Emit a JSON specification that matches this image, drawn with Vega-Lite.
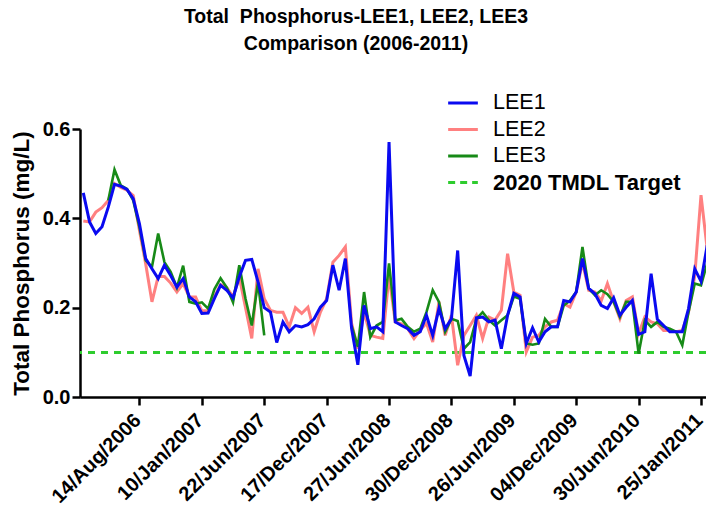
{
  "$schema": "https://vega.github.io/schema/vega-lite/v6.json",
  "width": 626,
  "height": 268,
  "autosize": {"type": "none"},
  "padding": {"left": 80, "top": 129, "right": 0, "bottom": 113},
  "background": "white",
  "config": {"view": {"stroke": null}, "font": "Liberation Sans"},
  "title": {
    "text": ["Total\u00a0 Phosphorus-LEE1, LEE2, LEE3", "Comparison (2006-2011)"],
    "font": "Liberation Sans",
    "fontSize": 19.5,
    "fontWeight": "bold",
    "color": "black",
    "lineHeight": 27,
    "anchor": "middle",
    "frame": "group",
    "dx": -37,
    "offset": 34
  },
  "datasets": {
    "tp": [
      {"i":0,"s":"LEE1","v":0.457},{"i":1,"s":"LEE1","v":0.392},{"i":2,"s":"LEE1","v":0.366},{"i":3,"s":"LEE1","v":0.381},{"i":4,"s":"LEE1","v":0.425},{"i":5,"s":"LEE1","v":0.476},{"i":6,"s":"LEE1","v":0.472},{"i":7,"s":"LEE1","v":0.465},{"i":8,"s":"LEE1","v":0.444},{"i":9,"s":"LEE1","v":0.388},
      {"i":10,"s":"LEE1","v":0.31},{"i":11,"s":"LEE1","v":0.287},{"i":12,"s":"LEE1","v":0.265},{"i":13,"s":"LEE1","v":0.295},{"i":14,"s":"LEE1","v":0.272},{"i":15,"s":"LEE1","v":0.246},{"i":16,"s":"LEE1","v":0.265},{"i":17,"s":"LEE1","v":0.224},{"i":18,"s":"LEE1","v":0.213},{"i":19,"s":"LEE1","v":0.187},
      {"i":20,"s":"LEE1","v":0.188},{"i":21,"s":"LEE1","v":0.22},{"i":22,"s":"LEE1","v":0.25},{"i":23,"s":"LEE1","v":0.239},{"i":24,"s":"LEE1","v":0.222},{"i":25,"s":"LEE1","v":0.269},{"i":26,"s":"LEE1","v":0.306},{"i":27,"s":"LEE1","v":0.308},{"i":28,"s":"LEE1","v":0.258},{"i":29,"s":"LEE1","v":0.2},
      {"i":30,"s":"LEE1","v":0.19},{"i":31,"s":"LEE1","v":0.122},{"i":32,"s":"LEE1","v":0.168},{"i":33,"s":"LEE1","v":0.146},{"i":34,"s":"LEE1","v":0.16},{"i":35,"s":"LEE1","v":0.157},{"i":36,"s":"LEE1","v":0.162},{"i":37,"s":"LEE1","v":0.175},{"i":38,"s":"LEE1","v":0.201},{"i":39,"s":"LEE1","v":0.216},
      {"i":40,"s":"LEE1","v":0.295},{"i":41,"s":"LEE1","v":0.239},{"i":42,"s":"LEE1","v":0.31},{"i":43,"s":"LEE1","v":0.153},{"i":44,"s":"LEE1","v":0.072},{"i":45,"s":"LEE1","v":0.205},{"i":46,"s":"LEE1","v":0.153},{"i":47,"s":"LEE1","v":0.157},{"i":48,"s":"LEE1","v":0.146},{"i":49,"s":"LEE1","v":0.571},
      {"i":50,"s":"LEE1","v":0.168},{"i":51,"s":"LEE1","v":0.16},{"i":52,"s":"LEE1","v":0.153},{"i":53,"s":"LEE1","v":0.138},{"i":54,"s":"LEE1","v":0.146},{"i":55,"s":"LEE1","v":0.183},{"i":56,"s":"LEE1","v":0.138},{"i":57,"s":"LEE1","v":0.198},{"i":58,"s":"LEE1","v":0.153},{"i":59,"s":"LEE1","v":0.175},
      {"i":60,"s":"LEE1","v":0.328},{"i":61,"s":"LEE1","v":0.093},{"i":62,"s":"LEE1","v":0.047},{"i":63,"s":"LEE1","v":0.177},{"i":64,"s":"LEE1","v":0.179},{"i":65,"s":"LEE1","v":0.168},{"i":66,"s":"LEE1","v":0.172},{"i":67,"s":"LEE1","v":0.108},{"i":68,"s":"LEE1","v":0.183},{"i":69,"s":"LEE1","v":0.232},
      {"i":70,"s":"LEE1","v":0.224},{"i":71,"s":"LEE1","v":0.12},{"i":72,"s":"LEE1","v":0.155},{"i":73,"s":"LEE1","v":0.123},{"i":74,"s":"LEE1","v":0.146},{"i":75,"s":"LEE1","v":0.157},{"i":76,"s":"LEE1","v":0.157},{"i":77,"s":"LEE1","v":0.216},{"i":78,"s":"LEE1","v":0.213},{"i":79,"s":"LEE1","v":0.235},
      {"i":80,"s":"LEE1","v":0.31},{"i":81,"s":"LEE1","v":0.243},{"i":82,"s":"LEE1","v":0.231},{"i":83,"s":"LEE1","v":0.205},{"i":84,"s":"LEE1","v":0.198},{"i":85,"s":"LEE1","v":0.222},{"i":86,"s":"LEE1","v":0.183},{"i":87,"s":"LEE1","v":0.201},{"i":88,"s":"LEE1","v":0.216},{"i":89,"s":"LEE1","v":0.14},
      {"i":90,"s":"LEE1","v":0.146},{"i":91,"s":"LEE1","v":0.276},{"i":92,"s":"LEE1","v":0.174},{"i":93,"s":"LEE1","v":0.16},{"i":94,"s":"LEE1","v":0.146},{"i":95,"s":"LEE1","v":0.146},{"i":96,"s":"LEE1","v":0.146},{"i":97,"s":"LEE1","v":0.198},{"i":98,"s":"LEE1","v":0.287},{"i":99,"s":"LEE1","v":0.259},{"i":100,"s":"LEE1","v":0.34},

      {"i":0,"s":"LEE2","v":0.394},{"i":1,"s":"LEE2","v":0.392},{"i":2,"s":"LEE2","v":0.414},{"i":3,"s":"LEE2","v":0.424},{"i":4,"s":"LEE2","v":0.44},{"i":5,"s":"LEE2","v":0.478},{"i":6,"s":"LEE2","v":0.469},{"i":7,"s":"LEE2","v":0.463},{"i":8,"s":"LEE2","v":0.451},{"i":9,"s":"LEE2","v":0.373},
      {"i":10,"s":"LEE2","v":0.298},{"i":11,"s":"LEE2","v":0.213},{"i":12,"s":"LEE2","v":0.27},{"i":13,"s":"LEE2","v":0.27},{"i":14,"s":"LEE2","v":0.255},{"i":15,"s":"LEE2","v":0.235},{"i":16,"s":"LEE2","v":0.254},{"i":17,"s":"LEE2","v":0.224},{"i":18,"s":"LEE2","v":0.224},{"i":19,"s":"LEE2","v":0.193},
      {"i":20,"s":"LEE2","v":0.193},{"i":21,"s":"LEE2","v":0.224},{"i":22,"s":"LEE2","v":0.252},{"i":23,"s":"LEE2","v":0.245},{"i":24,"s":"LEE2","v":0.224},{"i":25,"s":"LEE2","v":0.269},{"i":26,"s":"LEE2","v":0.2},{"i":27,"s":"LEE2","v":0.131},{"i":28,"s":"LEE2","v":0.287},{"i":29,"s":"LEE2","v":0.22},
      {"i":30,"s":"LEE2","v":0.194},{"i":31,"s":"LEE2","v":0.19},{"i":32,"s":"LEE2","v":0.19},{"i":33,"s":"LEE2","v":0.157},{"i":34,"s":"LEE2","v":0.2},{"i":35,"s":"LEE2","v":0.187},{"i":36,"s":"LEE2","v":0.201},{"i":37,"s":"LEE2","v":0.146},{"i":38,"s":"LEE2","v":0.19},{"i":39,"s":"LEE2","v":0.22},
      {"i":40,"s":"LEE2","v":0.302},{"i":41,"s":"LEE2","v":0.317},{"i":42,"s":"LEE2","v":0.336},{"i":43,"s":"LEE2","v":0.165},{"i":44,"s":"LEE2","v":0.108},{"i":45,"s":"LEE2","v":0.19},{"i":46,"s":"LEE2","v":0.138},{"i":47,"s":"LEE2","v":0.134},{"i":48,"s":"LEE2","v":0.131},{"i":49,"s":"LEE2","v":0.272},
      {"i":50,"s":"LEE2","v":0.168},{"i":51,"s":"LEE2","v":0.164},{"i":52,"s":"LEE2","v":0.153},{"i":53,"s":"LEE2","v":0.131},{"i":54,"s":"LEE2","v":0.15},{"i":55,"s":"LEE2","v":0.165},{"i":56,"s":"LEE2","v":0.123},{"i":57,"s":"LEE2","v":0.213},{"i":58,"s":"LEE2","v":0.138},{"i":59,"s":"LEE2","v":0.183},
      {"i":60,"s":"LEE2","v":0.071},{"i":61,"s":"LEE2","v":0.138},{"i":62,"s":"LEE2","v":0.16},{"i":63,"s":"LEE2","v":0.183},{"i":64,"s":"LEE2","v":0.131},{"i":65,"s":"LEE2","v":0.179},{"i":66,"s":"LEE2","v":0.172},{"i":67,"s":"LEE2","v":0.194},{"i":68,"s":"LEE2","v":0.321},{"i":69,"s":"LEE2","v":0.235},
      {"i":70,"s":"LEE2","v":0.228},{"i":71,"s":"LEE2","v":0.101},{"i":72,"s":"LEE2","v":0.134},{"i":73,"s":"LEE2","v":0.138},{"i":74,"s":"LEE2","v":0.157},{"i":75,"s":"LEE2","v":0.168},{"i":76,"s":"LEE2","v":0.172},{"i":77,"s":"LEE2","v":0.209},{"i":78,"s":"LEE2","v":0.201},{"i":79,"s":"LEE2","v":0.235},
      {"i":80,"s":"LEE2","v":0.302},{"i":81,"s":"LEE2","v":0.239},{"i":82,"s":"LEE2","v":0.235},{"i":83,"s":"LEE2","v":0.215},{"i":84,"s":"LEE2","v":0.254},{"i":85,"s":"LEE2","v":0.213},{"i":86,"s":"LEE2","v":0.175},{"i":87,"s":"LEE2","v":0.216},{"i":88,"s":"LEE2","v":0.224},{"i":89,"s":"LEE2","v":0.142},
      {"i":90,"s":"LEE2","v":0.179},{"i":91,"s":"LEE2","v":0.168},{"i":92,"s":"LEE2","v":0.164},{"i":93,"s":"LEE2","v":0.149},{"i":94,"s":"LEE2","v":0.149},{"i":95,"s":"LEE2","v":0.146},{"i":96,"s":"LEE2","v":0.149},{"i":97,"s":"LEE2","v":0.19},{"i":98,"s":"LEE2","v":0.272},{"i":99,"s":"LEE2","v":0.452},{"i":100,"s":"LEE2","v":0.33},

      {"i":4,"s":"LEE3","v":0.44},{"i":5,"s":"LEE3","v":0.509},{"i":6,"s":"LEE3","v":0.474},{"i":7,"s":"LEE3","v":0.466},{"i":8,"s":"LEE3","v":0.44},{"i":9,"s":"LEE3","v":0.38},
      {"i":10,"s":"LEE3","v":0.306},{"i":11,"s":"LEE3","v":0.291},{"i":12,"s":"LEE3","v":0.366},{"i":13,"s":"LEE3","v":0.302},{"i":14,"s":"LEE3","v":0.28},{"i":15,"s":"LEE3","v":0.245},{"i":16,"s":"LEE3","v":0.294},{"i":17,"s":"LEE3","v":0.213},{"i":18,"s":"LEE3","v":0.209},{"i":19,"s":"LEE3","v":0.212},
      {"i":20,"s":"LEE3","v":0.198},{"i":21,"s":"LEE3","v":0.241},{"i":22,"s":"LEE3","v":0.266},{"i":23,"s":"LEE3","v":0.245},{"i":24,"s":"LEE3","v":0.212},{"i":25,"s":"LEE3","v":0.295},{"i":26,"s":"LEE3","v":0.22},{"i":27,"s":"LEE3","v":0.16},{"i":28,"s":"LEE3","v":0.257},{"i":29,"s":"LEE3","v":0.138},
      {"i":30,"s":"LEE3","v":null},{"i":36,"s":"LEE3","v":null},{"i":42,"s":"LEE3","v":null},
      {"i":43,"s":"LEE3","v":0.16},{"i":44,"s":"LEE3","v":0.112},{"i":45,"s":"LEE3","v":0.235},{"i":46,"s":"LEE3","v":0.134},{"i":47,"s":"LEE3","v":0.16},{"i":48,"s":"LEE3","v":0.168},{"i":49,"s":"LEE3","v":0.299},
      {"i":50,"s":"LEE3","v":0.171},{"i":51,"s":"LEE3","v":0.175},{"i":52,"s":"LEE3","v":0.157},{"i":53,"s":"LEE3","v":0.146},{"i":54,"s":"LEE3","v":0.153},{"i":55,"s":"LEE3","v":0.19},{"i":56,"s":"LEE3","v":0.239},{"i":57,"s":"LEE3","v":0.213},{"i":58,"s":"LEE3","v":0.146},{"i":59,"s":"LEE3","v":0.175},
      {"i":60,"s":"LEE3","v":0.17},{"i":61,"s":"LEE3","v":0.108},{"i":62,"s":"LEE3","v":0.123},{"i":63,"s":"LEE3","v":0.175},{"i":64,"s":"LEE3","v":0.19},{"i":65,"s":"LEE3","v":0.172},{"i":66,"s":"LEE3","v":0.16},{"i":67,"s":"LEE3","v":0.172},{"i":68,"s":"LEE3","v":0.183},{"i":69,"s":"LEE3","v":0.225},
      {"i":70,"s":"LEE3","v":0.22},{"i":71,"s":"LEE3","v":0.12},{"i":72,"s":"LEE3","v":0.117},{"i":73,"s":"LEE3","v":0.12},{"i":74,"s":"LEE3","v":0.175},{"i":75,"s":"LEE3","v":0.157},{"i":76,"s":"LEE3","v":0.157},{"i":77,"s":"LEE3","v":0.205},{"i":78,"s":"LEE3","v":0.216},{"i":79,"s":"LEE3","v":0.235},
      {"i":80,"s":"LEE3","v":0.336},{"i":81,"s":"LEE3","v":0.243},{"i":82,"s":"LEE3","v":0.228},{"i":83,"s":"LEE3","v":0.239},{"i":84,"s":"LEE3","v":0.23},{"i":85,"s":"LEE3","v":0.213},{"i":86,"s":"LEE3","v":0.179},{"i":87,"s":"LEE3","v":0.213},{"i":88,"s":"LEE3","v":0.213},{"i":89,"s":"LEE3","v":0.097},
      {"i":90,"s":"LEE3","v":0.172},{"i":91,"s":"LEE3","v":0.157},{"i":92,"s":"LEE3","v":0.168},{"i":93,"s":"LEE3","v":0.157},{"i":94,"s":"LEE3","v":0.153},{"i":95,"s":"LEE3","v":0.146},{"i":96,"s":"LEE3","v":0.116},{"i":97,"s":"LEE3","v":0.19},{"i":98,"s":"LEE3","v":0.254},{"i":99,"s":"LEE3","v":0.25},{"i":100,"s":"LEE3","v":0.3}
    ]
  },
  "data": {"name": "tp"},
  "layer": [
    {
      "mark": {"type": "rule", "strokeDash": [7, 6], "strokeWidth": 2.5},
      "encoding": {
        "y": {"datum": 0.1, "type": "quantitative"},
        "color": {"datum": "2020 TMDL Target"}
      }
    },
    {
      "transform": [{"filter": "datum.s === 'LEE2'"}],
      "mark": {"type": "line", "strokeWidth": 3, "clip": true, "invalid": "break-paths-filter-domains"},
      "encoding": {
        "x": {"field": "i", "type": "quantitative"},
        "y": {"field": "v", "type": "quantitative"},
        "color": {"field": "s"}
      }
    },
    {
      "transform": [{"filter": "datum.s === 'LEE3'"}],
      "mark": {"type": "line", "strokeWidth": 2.6, "clip": true, "invalid": "break-paths-filter-domains"},
      "encoding": {
        "x": {"field": "i", "type": "quantitative"},
        "y": {"field": "v", "type": "quantitative"},
        "color": {"field": "s"}
      }
    },
    {
      "transform": [{"filter": "datum.s === 'LEE1'"}],
      "mark": {"type": "line", "strokeWidth": 3, "clip": true, "invalid": "break-paths-filter-domains"},
      "encoding": {
        "x": {
          "field": "i", "type": "quantitative",
          "scale": {"domain": [-0.53, 99.8], "nice": false, "zero": false},
          "axis": {
            "title": null,
            "values": [9, 19, 29, 39, 49, 59, 69, 79, 89, 99],
            "labelExpr": "['14/Aug/2006','10/Jan/2007','22/Jun/2007','17/Dec/2007','27/Jun/2008','30/Dec/2008','26/Jun/2009','04/Dec/2009','30/Jun/2010','25/Jan/2011'][round((datum.value - 9) / 10)]",
            "labelAngle": -45,
            "labelAlign": "right",
            "labelBaseline": "middle",
            "labelFont": "Liberation Sans",
            "labelFontSize": 20,
            "labelFontWeight": "bold",
            "labelColor": "black",
            "labelPadding": 12,
            "labelOffset": -2,
            "labelOverlap": false,
            "labelFlush": false,
            "labelBound": false,
            "grid": false,
            "domainColor": "black",
            "domainWidth": 2.5,
            "tickColor": "black",
            "tickWidth": 2.5,
            "tickSize": 8
          }
        },
        "y": {
          "field": "v", "type": "quantitative",
          "scale": {"domain": [0, 0.6], "nice": false},
          "axis": {
            "title": "Total Phosphorus (mg/L)",
            "titleFont": "Liberation Sans",
            "titleFontSize": 22.5,
            "titleFontWeight": "bold",
            "titleColor": "black",
            "titlePadding": 9,
            "values": [0, 0.2, 0.4, 0.6],
            "format": ".1f",
            "labelFont": "Liberation Sans",
            "labelFontSize": 20,
            "labelFontWeight": "bold",
            "labelColor": "black",
            "labelPadding": 2,
            "grid": false,
            "domainColor": "black",
            "domainWidth": 2.5,
            "tickColor": "black",
            "tickWidth": 2.5,
            "tickSize": 8
          }
        },
        "color": {
          "field": "s",
          "scale": {
            "domain": ["LEE1", "LEE2", "LEE3", "2020 TMDL Target"],
            "range": ["#0A0AF0", "#FF8080", "#178A17", "#2ECC2E"]
          },
          "legend": {
            "title": null,
            "orient": "none",
            "legendX": 368,
            "legendY": -41,
            "symbolType": "M-1.1,0H1.1",
            "symbolSize": 729,
            "symbolStrokeWidth": 3,
            "symbolFillColor": "transparent",
            "labelFont": "Liberation Sans",
            "labelFontSize": 21.5,
            "labelColor": "black",
            "labelOffset": 15,
            "labelLimit": 0,
            "rowPadding": 0.5,
            "encode": {
              "labels": {"update": {
                "fontWeight": {"signal": "datum.label === '2020 TMDL Target' ? 'bold' : 'normal'"},
                "fontSize": {"signal": "datum.label === '2020 TMDL Target' ? 22 : 21.5"}
              }},
              "symbols": {"update": {"strokeDash": {"signal": "datum.label === '2020 TMDL Target' ? [7, 5] : [1, 0]"}}}
            }
          }
        }
      }
    }
  ]
}
